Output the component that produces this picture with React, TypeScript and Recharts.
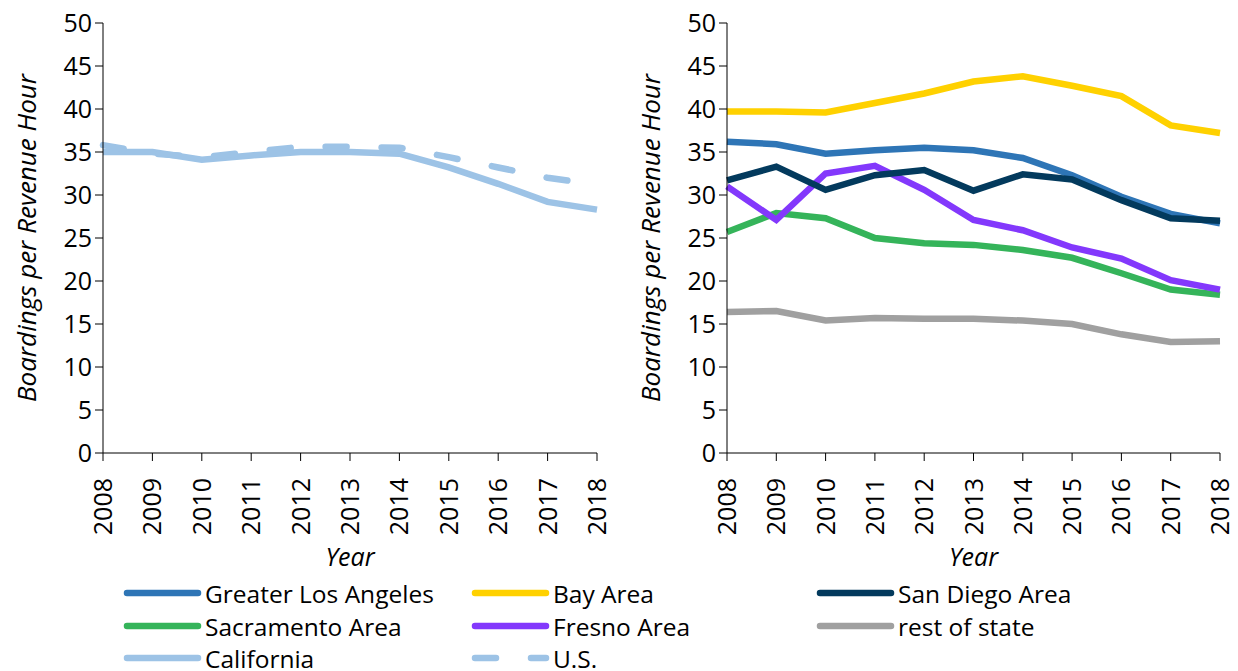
import { LineChart, Line, XAxis, YAxis } from 'recharts'

const font = "'Open Sans', sans-serif"

// years on the x axis
const years = [2008, 2009, 2010, 2011, 2012, 2013, 2014, 2015, 2016, 2017, 2018]
const yTicks = [0, 5, 10, 15, 20, 25, 30, 35, 40, 45, 50]

// left panel
const california = [35.0, 35.0, 34.1, 34.6, 35.0, 35.0, 34.8, 33.2, 31.3, 29.2, 28.3]
const us = [35.8, 34.8, 34.4, 35.0, 35.6, 35.6, 35.5, 34.4, 33.2, 32.0, 31.2]

// right panel
const greaterLA = [36.2, 35.9, 34.8, 35.2, 35.5, 35.2, 34.3, 32.3, 29.8, 27.8, 26.7]
const bayArea = [39.7, 39.7, 39.6, 40.7, 41.8, 43.2, 43.8, 42.7, 41.5, 38.1, 37.2]
const sanDiego = [31.7, 33.3, 30.6, 32.3, 32.9, 30.5, 32.4, 31.8, 29.4, 27.3, 27.0]
const sacramento = [25.7, 27.9, 27.3, 25.0, 24.4, 24.2, 23.6, 22.7, 20.9, 19.0, 18.4]
const fresno = [31.0, 27.1, 32.5, 33.4, 30.6, 27.1, 25.9, 23.9, 22.6, 20.1, 19.0]
const restOfState = [16.4, 16.5, 15.4, 15.7, 15.6, 15.6, 15.4, 15.0, 13.8, 12.9, 13.0]

const colors = {
    greaterLA: '#2E75B6',
    bayArea: '#FFD100',
    sanDiego: '#033A5D',
    sacramento: '#35B45A',
    fresno: '#8338FC',
    restOfState: '#A0A0A0',
    california: '#9DC3E6',
}

const leftData = years.map((year, i) => ({ year, california: california[i], us: us[i] }))
const rightData = years.map((year, i) => ({
    year,
    greaterLA: greaterLA[i],
    bayArea: bayArea[i],
    sanDiego: sanDiego[i],
    sacramento: sacramento[i],
    fresno: fresno[i],
    restOfState: restOfState[i],
}))

const legendItems = [
    { name: 'Greater Los Angeles', color: colors.greaterLA, dashed: false },
    { name: 'Bay Area', color: colors.bayArea, dashed: false },
    { name: 'San Diego Area', color: colors.sanDiego, dashed: false },
    { name: 'Sacramento Area', color: colors.sacramento, dashed: false },
    { name: 'Fresno Area', color: colors.fresno, dashed: false },
    { name: 'rest of state', color: colors.restOfState, dashed: false },
    { name: 'California', color: colors.california, dashed: false },
    { name: 'U.S.', color: colors.california, dashed: true },
]

const LINE_W = 6.5

const YearTick = (props: any) => {
    const { x, y, payload } = props
    return (
        <g transform={`translate(${x},${y})`}>
            <text transform="rotate(-90)" x={-15} y={0} dy="0.36em" textAnchor="end"
                fontSize={25} fontFamily={font} fill="#000">
                {payload.value}
            </text>
        </g>
    )
}

const makeYLabel = (offset: number) => (props: any) => {
    const vb = props.viewBox
    const x = vb.x + offset
    const y = vb.y + vb.height / 2
    return (
        <text x={x} y={y} transform={`rotate(-90, ${x}, ${y})`} textAnchor="middle"
            dominantBaseline="central" fontSize={26} fontStyle="italic" fontFamily={font} fill="#000">
            Boardings per Revenue Hour
        </text>
    )
}

const yearLabel = (props: any) => {
    const vb = props.viewBox
    return (
        <text x={vb.x + vb.width / 2} y={vb.y + 103} textAnchor="middle" dominantBaseline="central"
            fontSize={25} fontStyle="italic" fontFamily={font} fill="#000">
            Year
        </text>
    )
}

const axisCommon = {
    stroke: '#000',
    tickLine: { stroke: '#000' },
    tickSize: 8,
}

export default function App() {
    const colX = [127, 475, 820]
    const rowY = [593, 626, 658]
    return (
        <div style={{ position: 'absolute', left: 0, top: 0, width: 1238, height: 671, background: '#fff' }}>
            <div style={{ position: 'absolute', left: 0, top: 0 }}>
                <LineChart width={620} height={590} data={leftData} margin={{ top: 23, right: 23, bottom: 0, left: 0 }}>
                    <XAxis dataKey="year" type="number" domain={[2008, 2018]} ticks={years} interval={0}
                        height={137} tick={<YearTick />} label={{ content: yearLabel }} {...axisCommon} />
                    <YAxis domain={[0, 50]} ticks={yTicks} width={103} interval={0}
                        tick={{ fontSize: 25, fill: '#000', fontFamily: font }} tickMargin={3}
                        label={{ content: makeYLabel(26) }} {...axisCommon} />
                    <Line type="linear" dataKey="california" stroke={colors.california} strokeWidth={LINE_W}
                        dot={false} isAnimationActive={false} />
                    <Line type="linear" dataKey="us" stroke={colors.california} strokeWidth={LINE_W}
                        strokeDasharray="21 35" strokeLinecap="round" dot={false} isAnimationActive={false} />
                </LineChart>
            </div>
            <div style={{ position: 'absolute', left: 620, top: 0 }}>
                <LineChart width={618} height={590} data={rightData} margin={{ top: 23, right: 18, bottom: 0, left: 0 }}>
                    <XAxis dataKey="year" type="number" domain={[2008, 2018]} ticks={years} interval={0}
                        height={137} tick={<YearTick />} label={{ content: yearLabel }} {...axisCommon} />
                    <YAxis domain={[0, 50]} ticks={yTicks} width={107} interval={0}
                        tick={{ fontSize: 25, fill: '#000', fontFamily: font }} tickMargin={3}
                        label={{ content: makeYLabel(30) }} {...axisCommon} />
                    <Line type="linear" dataKey="restOfState" stroke={colors.restOfState} strokeWidth={LINE_W} dot={false} isAnimationActive={false} />
                    <Line type="linear" dataKey="sacramento" stroke={colors.sacramento} strokeWidth={LINE_W} dot={false} isAnimationActive={false} />
                    <Line type="linear" dataKey="fresno" stroke={colors.fresno} strokeWidth={LINE_W} dot={false} isAnimationActive={false} />
                    <Line type="linear" dataKey="greaterLA" stroke={colors.greaterLA} strokeWidth={LINE_W} dot={false} isAnimationActive={false} />
                    <Line type="linear" dataKey="sanDiego" stroke={colors.sanDiego} strokeWidth={LINE_W} dot={false} isAnimationActive={false} />
                    <Line type="linear" dataKey="bayArea" stroke={colors.bayArea} strokeWidth={LINE_W} dot={false} isAnimationActive={false} />
                </LineChart>
            </div>
            <svg width={1238} height={671} style={{ position: 'absolute', left: 0, top: 0, pointerEvents: 'none' }}>
                {legendItems.map((item, i) => {
                    const x = colX[i % 3]
                    const y = rowY[Math.floor(i / 3)]
                    return (
                        <g key={item.name}>
                            <line x1={x} y1={y} x2={x + 71} y2={y} stroke={item.color} strokeWidth={LINE_W}
                                strokeLinecap="round" strokeDasharray={item.dashed ? '21 35' : undefined} />
                            <text x={x + 78} y={y} dominantBaseline="central" fontSize={24.5} fontFamily={font} fill="#000">
                                {item.name}
                            </text>
                        </g>
                    )
                })}
            </svg>
        </div>
    )
}
